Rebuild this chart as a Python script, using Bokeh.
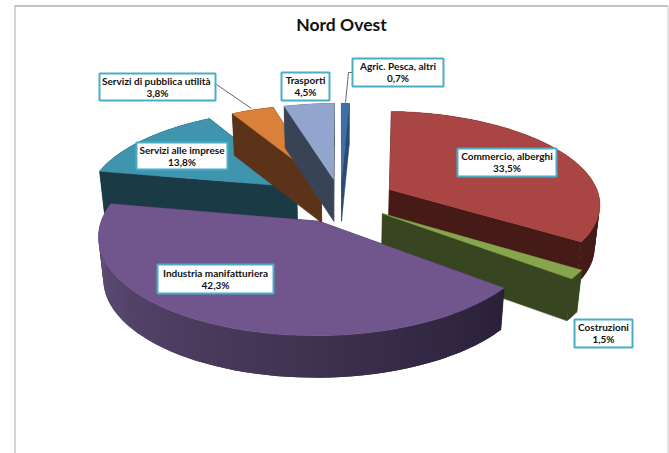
import numpy as np
from bokeh.plotting import figure
from bokeh.models import Range1d, ColumnDataSource
from bokeh.core.properties import value
from bokeh.embed import file_html
from bokeh.resources import INLINE

# ---- data (clockwise from 12 o'clock)
categories = ["Agric. Pesca, altri", "Commercio, alberghi", "Costruzioni", "Industria manifatturiera",
              "Servizi alle imprese", "Servizi di pubblica  utilità", "Trasporti"]
shares = [0.7, 33.5, 1.5, 42.3, 13.8, 3.8, 4.5]
title = "Nord Ovest"

# ---- styles
top_colors = ["#3f6fa8", "#a94643", "#87a64b", "#70568c", "#3f95ae", "#d9803a", "#92a6cd"]
wall_colors = ["#2a4a70", "#451a17", "#374620", "#2a2138", "#1a3b46", "#5a3318", "#384355"]
rim_start = ["#2a4a70", "#451a17", "#374620", "#2a2138", "#1a3b46", "#5a3318", "#384355"]
rim_end = ["#2a4a70", "#451a17", "#374620", "#67527f", "#1a3b46", "#5a3318", "#384355"]
draw_order = [4, 5, 6, 0, 1, 2, 3]
BORDER = "#4bacc6"

# ---- layout: pie projection in page pixels
CX, CY, RX, RY, PERSP, DEPTH, SHRINK = 340, 200, 211, 92, 0.14, 42, 0.98
explode = [0.24, 0.265, 0.24, 0.24, 0.26, 0.24, 0.24]
# label boxes: left, right, top, bottom
boxes = [(352, 443, 58, 86), (457, 556, 148, 176), (574, 632, 319, 347), (157, 273, 264, 293),
         (136, 227, 142, 169), (99, 215, 73, 100), (281, 329, 72, 100)]
leaders = [([352, 348, 345], [72, 72, 102]), ([216, 251], [84, 108])]


def project(X, Y):
    s = 1 / (1 + PERSP * Y)
    return CX + RX * X * s, CY - RY * Y * s


def mix(a, b, f):
    ca = [int(a[i:i + 2], 16) for i in (1, 3, 5)]
    cb = [int(b[i:i + 2], 16) for i in (1, 3, 5)]
    return "#%02x%02x%02x" % tuple(int(round(u + (v - u) * f)) for u, v in zip(ca, cb))


def drop(x, y):
    return CX + (np.asarray(x) - CX) * SHRINK, np.asarray(y) + DEPTH


fractions = np.array(shares) / sum(shares)
edges = np.concatenate([[0], np.cumsum(fractions)]) * 2 * np.pi

xs, ys, fills, widths = [], [], [], []


def add(x, y, color, width=0.5):
    xs.append(list(map(float, x)))
    ys.append(list(map(float, y)))
    fills.append(color)
    widths.append(width)


for i in draw_order:
    t0, t1 = edges[i], edges[i + 1]
    mid = (t0 + t1) / 2
    ox, oy = explode[i] * np.sin(mid), explode[i] * np.cos(mid)
    n = max(4, int((t1 - t0) / np.radians(2.5)))
    t = np.linspace(t0, t1, n + 1)
    ax, ay = project(np.array([ox]), np.array([oy]))
    rx, ry = project(ox + np.sin(t), oy + np.cos(t))
    bax, bay = drop(ax, ay)
    brx, bry = drop(rx, ry)
    # radial faces
    add([ax[0], rx[0], brx[0], bax[0]], [ay[0], ry[0], bry[0], bay[0]], wall_colors[i])
    add([ax[0], rx[-1], brx[-1], bax[0]], [ay[0], ry[-1], bry[-1], bay[0]], wall_colors[i])
    # outer wall, strips overlap so that no seams show
    for k in range(n):
        e = min(n, k + 2)
        add(np.concatenate([rx[k:e + 1], brx[k:e + 1][::-1]]),
            np.concatenate([ry[k:e + 1], bry[k:e + 1][::-1]]),
            mix(rim_start[i], rim_end[i], k / max(1, n - 1)), 0)
    # top face
    add(np.concatenate([ax, rx]), np.concatenate([ay, ry]), top_colors[i])

p = figure(width=669, height=453, output_backend="svg", toolbar_location=None,
           x_range=Range1d(0, 669), y_range=Range1d(453, 0), min_border=0)
p.axis.visible = False
p.grid.visible = False
p.outline_line_color = None
p.background_fill_color = "white"
p.border_fill_color = "white"

# chart area frame
p.line([14.5, 14.5], [453, 5.5], line_color="#d4d4d4", line_width=2)
p.line([14, 667.5], [5.5, 5.5], line_color="#b0b0b0", line_width=1.5)
p.line([667.5, 667.5], [5.5, 453], line_color="#d9d9d9", line_width=1.5)

p.patches("xs", "ys", source=ColumnDataSource(dict(xs=xs, ys=ys, fill=fills, w=widths)),
          fill_color="fill", line_color="fill", line_width="w")

for lx, ly in leaders:
    p.line(lx, ly, line_color="#404040", line_width=0.8)

left, right, top, bottom = map(np.array, zip(*boxes))
p.quad(left=left, right=right, top=top, bottom=bottom, fill_color="white",
       line_color=BORDER, line_width=2)
percent = [f"{v:.1f}%".replace(".", ",") for v in shares]
cx_label = (left + right) / 2
cy_label = (top + bottom) / 2
font = value("Lato")
p.text(cx_label, cy_label - 6.5, text=categories, text_font=font, text_font_style="bold",
       text_font_size="10px", text_align="center", text_baseline="middle", text_color="#111111")
p.text(cx_label, cy_label + 5.5, text=percent, text_font=font, text_font_style="bold",
       text_font_size="10px", text_align="center", text_baseline="middle", text_color="#111111")
p.text([341], [24], text=[title], text_font=font, text_font_style="bold", text_font_size="17.5px",
       text_align="center", text_baseline="middle", text_color="#111111")

open("out.html", "w").write(file_html(p, INLINE))
